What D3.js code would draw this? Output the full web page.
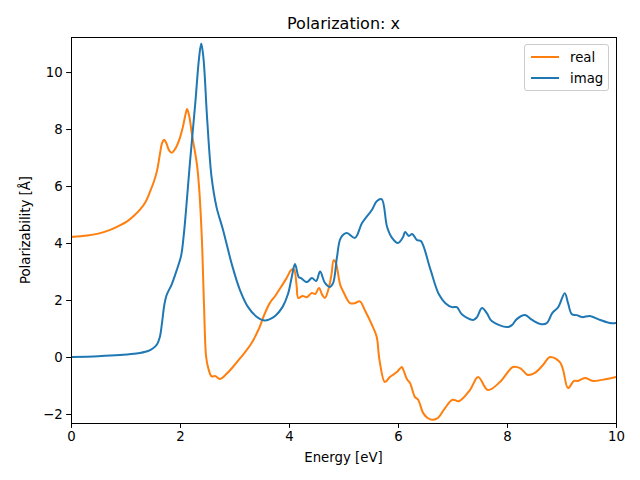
<!DOCTYPE html>
<html><head><meta charset="utf-8">
<script src="https://cdn.jsdelivr.net/npm/d3@7"></script>
<style>body{margin:0;background:#fff}svg text{font-family:"DejaVu Sans",sans-serif;fill:#000}</style>
</head><body><svg id="c" width="640" height="480"></svg>
<script>
const realX = [0,0.3,0.5,0.72,0.88,1.03,1.15,1.27,1.37,1.45,1.52,1.58,1.63,1.67,1.71,1.75,1.8,1.85,1.92,2.0,2.05,2.1,2.13,2.17,2.22,2.31,2.35,2.4,2.44,2.48,2.52,2.58,2.65,2.73,2.85,2.97,3.1,3.3,3.45,3.55,3.65,3.75,3.85,3.95,4.04,4.09,4.14,4.17,4.25,4.33,4.42,4.48,4.55,4.61,4.66,4.72,4.78,4.82,4.86,4.94,5.0,5.12,5.21,5.3,5.39,5.54,5.61,5.66,5.76,5.85,5.98,6.07,6.1,6.17,6.22,6.31,6.37,6.46,6.55,6.64,6.73,6.86,7.0,7.12,7.32,7.47,7.65,7.87,8.11,8.24,8.38,8.51,8.66,8.79,8.97,9.03,9.12,9.23,9.3,9.43,9.58,9.83,10];
const realY = [4.21,4.26,4.33,4.46,4.6,4.76,4.95,5.18,5.45,5.8,6.15,6.55,7.1,7.5,7.62,7.5,7.25,7.17,7.33,7.7,8.05,8.5,8.7,8.45,7.8,6.77,5.96,4.2,1.86,0.0,-0.4,-0.68,-0.67,-0.77,-0.6,-0.35,-0.05,0.45,1.0,1.5,1.9,2.15,2.45,2.75,3.05,3.08,2.5,2.07,2.14,2.1,2.25,2.21,2.42,2.18,2.07,2.35,2.9,3.4,3.3,2.53,2.28,1.89,1.89,1.95,1.65,1.05,0.7,-0.1,-0.88,-0.7,-0.53,-0.35,-0.46,-0.8,-0.91,-1.4,-1.5,-1.96,-2.15,-2.2,-2.14,-1.8,-1.5,-1.55,-1.16,-0.7,-1.16,-0.88,-0.35,-0.39,-0.63,-0.56,-0.28,0.0,-0.18,-0.46,-1.09,-0.84,-0.84,-0.74,-0.84,-0.77,-0.7];
const imagX = [0,0.5,0.9,1.2,1.4,1.5,1.58,1.63,1.67,1.71,1.75,1.85,1.94,2.02,2.07,2.12,2.18,2.28,2.35,2.39,2.43,2.5,2.58,2.67,2.79,2.95,3.1,3.25,3.4,3.55,3.65,3.75,3.88,3.98,4.05,4.11,4.18,4.22,4.33,4.42,4.5,4.57,4.66,4.75,4.81,4.88,4.95,5.06,5.21,5.34,5.52,5.61,5.7,5.8,5.89,6.0,6.09,6.13,6.2,6.26,6.35,6.42,6.59,6.75,6.87,6.99,7.08,7.17,7.38,7.45,7.54,7.63,7.72,8.0,8.09,8.18,8.33,8.46,8.61,8.73,8.83,8.94,9.06,9.12,9.19,9.28,9.38,9.52,9.71,9.89,10];
const imagY = [0,0.03,0.07,0.12,0.2,0.3,0.45,0.7,1.2,1.8,2.15,2.56,3.05,3.55,4.3,5.37,6.77,8.9,10.5,11.0,10.5,8.3,6.3,5.26,4.46,3.26,2.35,1.75,1.42,1.28,1.33,1.45,1.75,2.2,2.8,3.26,2.8,2.77,2.63,2.77,2.67,3.0,2.6,2.46,2.6,3.5,4.18,4.35,4.18,4.7,5.16,5.47,5.54,4.56,4.18,4.0,4.2,4.39,4.25,4.32,4.1,4.07,3.1,2.2,1.89,1.75,1.75,1.5,1.3,1.4,1.72,1.54,1.26,1.05,1.12,1.33,1.47,1.3,1.16,1.19,1.54,1.75,2.24,1.89,1.5,1.47,1.4,1.44,1.3,1.19,1.19];
const xTicks = [0,2,4,6,8,10];
const yTicks = [-2,0,2,4,6,8,10];
const seriesNames = ["real","imag"];
const colors = ["#ff7f0e","#1f77b4"];

const L=71,R=616,T=37,B=423;
const svg=d3.select("#c");
const x=d3.scaleLinear().domain([0,10]).range([L,R]);
const y=d3.scaleLinear().domain([-2.316,11.23]).range([B,T]);
const fmt=d=>String(d).replace("-","\u2212");

svg.append("defs").append("clipPath").attr("id","clp").append("rect")
  .attr("x",L).attr("y",T).attr("width",R-L).attr("height",B-T);

const line=d3.line().x(d=>x(d[0])).y(d=>y(d[1])).curve(d3.curveCatmullRom.alpha(0.5));
const data=[realX.map((v,i)=>[v,realY[i]]), imagX.map((v,i)=>[v,imagY[i]])];
const g=svg.append("g").attr("clip-path","url(#clp)");
data.forEach((d,i)=>g.append("path").attr("d",line(d)).attr("fill","none")
  .attr("stroke",colors[i]).attr("stroke-width",2).attr("stroke-linejoin","round").attr("stroke-linecap","square"));

const xa=svg.append("g").attr("transform",`translate(0,${B})`)
  .call(d3.axisBottom(x).tickValues(xTicks).tickFormat(fmt).tickSizeInner(4.9).tickSizeOuter(0).tickPadding(3.5));
const ya=svg.append("g").attr("transform",`translate(${L},0)`)
  .call(d3.axisLeft(y).tickValues(yTicks).tickFormat(fmt).tickSizeInner(4.9).tickSizeOuter(0).tickPadding(3.5));
[xa,ya].forEach(a=>{a.select(".domain").remove();a.selectAll("line").attr("stroke","#000").attr("stroke-width",1);
  a.selectAll("text").attr("font-size","13.3px").attr("font-family","DejaVu Sans").attr("fill","#000");});

svg.append("rect").attr("x",L).attr("y",T).attr("width",R-L).attr("height",B-T)
  .attr("fill","none").attr("stroke","#000").attr("stroke-width",1).attr("shape-rendering","crispEdges");

svg.append("text").attr("x",(L+R)/2).attr("y",29).attr("text-anchor","middle").attr("font-size","16px").text("Polarization: x");
svg.append("text").attr("x",(L+R)/2).attr("y",462).attr("text-anchor","middle").attr("font-size","13.3px").text("Energy [eV]");
svg.append("text").attr("transform",`translate(30,${(T+B)/2}) rotate(-90)`).attr("text-anchor","middle").attr("font-size","13.3px").text("Polarizability [Å]");

const lg=svg.append("g");
lg.append("rect").attr("x",524.5).attr("y",44.5).attr("width",84).attr("height",46).attr("rx",2.5)
  .attr("fill","#fff").attr("fill-opacity",0.8).attr("stroke","#ccc").attr("stroke-width",1);
seriesNames.forEach((n,i)=>{
  const yy=57+i*21;
  lg.append("line").attr("x1",531).attr("x2",559).attr("y1",yy).attr("y2",yy).attr("stroke",colors[i]).attr("stroke-width",2);
  lg.append("text").attr("x",570).attr("y",yy+4.5).attr("font-size","13.3px").text(n);
});
</script></body></html>
